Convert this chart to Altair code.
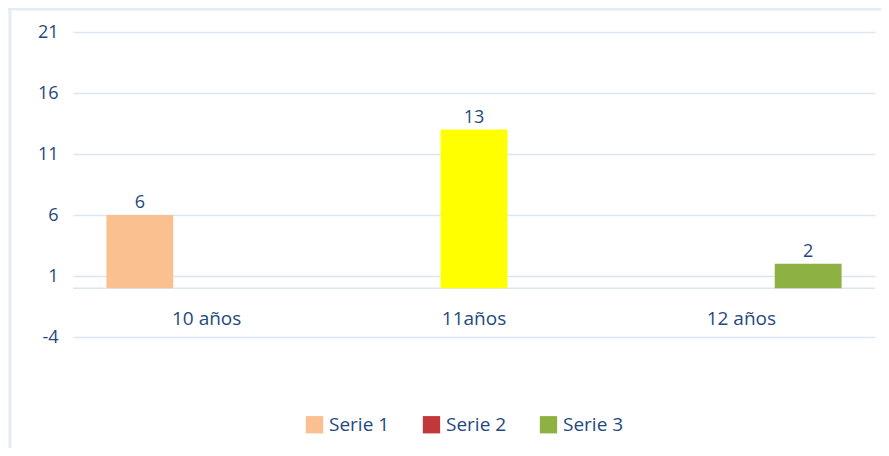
import altair as alt
import pandas as pd

categories = ["10 años", "11años", "12 años"]
series = ["Serie 1", "Serie 2", "Serie 3"]
bar_categories = ["10 años", "11años", "12 años"]
bar_series = ["Serie 1", "Serie 2", "Serie 3"]
bar_values = [6, 13, 2]
series_colors = ["#FAC08F", "#C0383A", "#8DB243"]
highlight_category = "11años"
highlight_color = "#FFFF00"
y_ticks = [-4, 1, 6, 11, 16, 21]

FONT = "Open Sans"
TXT = "#1F497D"
GRID = "#DCE6F2"

bars_df = pd.DataFrame({"categoria": bar_categories, "serie": bar_series, "valor": bar_values})
cats_df = pd.DataFrame({"categoria": categories})

x_enc = alt.X("categoria:N", sort=categories, axis=None,
              scale=alt.Scale(paddingInner=0, paddingOuter=0))
y_scale = alt.Scale(domain=[-4, 21], nice=False, zero=False)
xoff = alt.XOffset("serie:N", sort=series,
                   scale=alt.Scale(domain=series, paddingInner=0, paddingOuter=0.5))

bars = alt.Chart(bars_df).mark_bar().encode(
    x=x_enc,
    xOffset=xoff,
    y=alt.Y("valor:Q", scale=y_scale,
            axis=alt.Axis(values=y_ticks, title=None, domain=False, ticks=False,
                          labelPadding=15, labelFont=FONT, labelFontSize=18,
                          labelExpr="'' + datum.value",
                          labelColor=TXT, gridColor=GRID, gridWidth=1.5)),
    y2=alt.datum(0),
    color=alt.condition(
        f"datum.categoria === '{highlight_category}'",
        alt.value(highlight_color),
        alt.Color("serie:N", sort=series,
                  scale=alt.Scale(domain=series, range=series_colors),
                  legend=alt.Legend(title=None, orient="none", direction="horizontal",
                                    legendX=232, legendY=383, symbolType="square",
                                    symbolSize=300, symbolStrokeWidth=0,
                                    labelFont=FONT, labelFontSize=19, labelColor=TXT,
                                    columnPadding=32, labelOffset=5)),
    ),
)

labels = alt.Chart(bars_df).mark_text(
    baseline="bottom", dy=-3, font=FONT, fontSize=18, color=TXT
).encode(
    x=x_enc,
    xOffset=xoff,
    y=alt.Y("valor:Q", scale=y_scale),
    text=alt.Text("valor:Q"),
)

cat_labels = alt.Chart(cats_df).mark_text(
    baseline="middle", dy=31, font=FONT, fontSize=19, color=TXT
).encode(
    x=x_enc,
    y=alt.datum(0),
    text="categoria:N",
)

baseline = alt.Chart(pd.DataFrame({"v": [0]})).mark_rule(
    color=GRID, strokeWidth=1.5
).encode(y=alt.Y("v:Q", scale=y_scale))

frame_df = pd.DataFrame({"f": [0]})
frame_left = alt.Chart(frame_df).mark_rule(color="#E3EBF6", strokeWidth=3).encode(
    x=alt.value(-63), y=alt.value(-24), y2=alt.value(420),
)
frame_top = alt.Chart(frame_df).mark_rule(color="#E3EBF6", strokeWidth=3).encode(
    x=alt.value(-65), x2=alt.value(810), y=alt.value(-23),
)

chart = alt.layer(frame_left, frame_top, baseline, bars, labels, cat_labels).properties(
    width=802, height=305,
    background="white",
    autosize=alt.AutoSizeParams(type="none"),
    padding={"left": 65, "top": 24, "right": 6, "bottom": 111},
).configure_view(strokeWidth=0, stroke=None)

chart.save("out.html", embed_options={"renderer": "svg", "actions": False})
